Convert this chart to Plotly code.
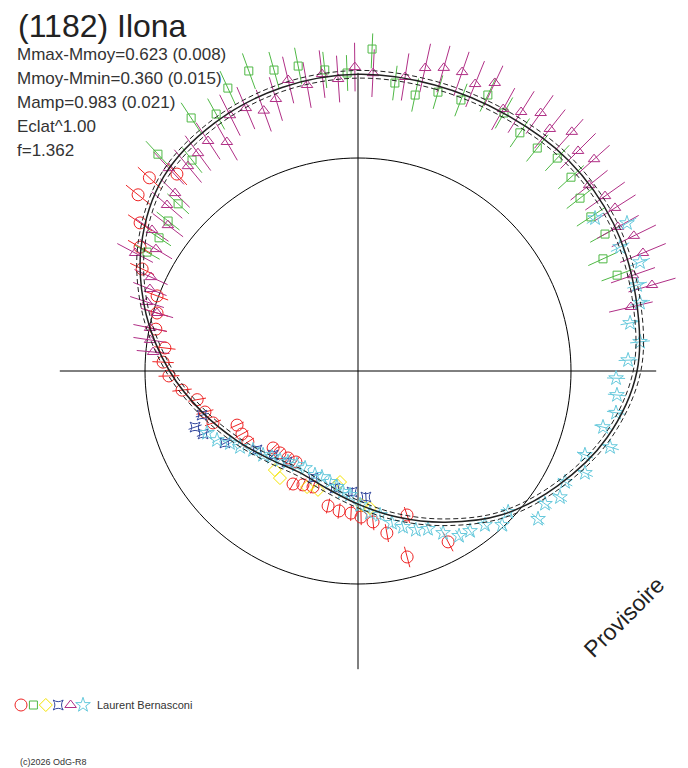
import plotly.graph_objects as go

# angles in degrees (phase, clockwise from top), r = relative brightness (1 = mean circle)
fit_ang = [0, 15, 30, 45, 60, 75, 90, 105, 120, 135, 150, 165, 180, 195, 210, 225,
           240, 255, 270, 285, 300, 315, 330, 345, 360]
fit_r = [1.393, 1.39, 1.39, 1.398, 1.385, 1.35, 1.31, 1.21, 1.08, 0.955, 0.82, 0.71,
         0.625, 0.57, 0.55, 0.585, 0.655, 0.755, 0.885, 1.03, 1.175, 1.29, 1.345, 1.378, 1.393]
fit_sigma = 0.018

red_ang = [312.8, 317.4, 308.7, 304.2, 299.6, 295.3, 290.5, 286.1, 281.7, 276.8, 272.6, 268.5,
           263.8, 259.9, 255.0, 250.3, 245.9, 241.5, 237.2, 227.8, 223.6, 218.8, 214.3, 209.9,
           205.8, 201.2, 192.5, 187.7, 182.8, 178.8, 174.3, 169.9, 161.2, 165.2, 152.2]
red_r = [1.335, 1.256, 1.323, 1.237, 1.177, 1.121, 1.007, 0.982, 0.969, 0.913, 0.916, 0.888,
         0.831, 0.767, 0.744, 0.723, 0.622, 0.62, 0.615, 0.538, 0.531, 0.524, 0.517, 0.612,
         0.594, 0.584, 0.649, 0.663, 0.668, 0.686, 0.712, 0.773, 0.714, 0.903, 0.907]

green_ang = [2.5, 357.9, 353.7, 348.9, 344.4, 340.0, 335.3, 331.1, 326.6, 321.8, 317.3, 312.9,
             308.3, 303.8, 299.4, 7.3, 11.7, 16.0, 20.8, 25.2, 29.5, 34.2, 38.8, 43.1, 47.7,
             52.1, 56.5, 61.0, 65.4, 69.7]
green_r = [1.513, 1.40, 1.422, 1.459, 1.467, 1.499, 1.462, 1.378, 1.423, 1.26, 1.385, 1.153,
           1.136, 1.124, 1.137, 1.363, 1.323, 1.362, 1.361, 1.432, 1.392, 1.352, 1.343, 1.369,
           1.352, 1.321, 1.311, 1.326, 1.265, 1.297]

yellow_ang = [220.0, 216.1, 203.7, 198.6, 190.4, 189.2, 178.3, 175.0]
yellow_r = [0.607, 0.622, 0.595, 0.589, 0.544, 0.528, 0.629, 0.646]

blue_ang = [251.0, 254.2, 247.9, 241.6, 232.0, 225.3, 218.0, 202.8, 191.1, 182.8, 176.4]
blue_r = [0.809, 0.761, 0.785, 0.71, 0.602, 0.561, 0.542, 0.545, 0.56, 0.569, 0.593]

magenta_ang = [359.4, 356.1, 353.1, 349.9, 346.5, 343.2, 340.1, 336.9, 333.4, 330.2, 326.9,
               323.7, 320.3, 317.0, 314.2, 311.0, 304.4, 307.5, 301.1, 297.9, 294.4, 291.5,
               288.1, 286.1, 281.7, 278.5, 275.3, 2.9, 9.1, 12.5, 15.8, 19.2, 22.2, 25.4, 29.0,
               32.2, 35.3, 38.4, 41.8, 45.0, 48.1, 51.2, 54.7, 57.6, 61.0, 63.9, 67.5, 70.8,
               73.7, 76.8]
magenta_r = [1.427, 1.374, 1.404, 1.364, 1.405, 1.334, 1.30, 1.342, 1.343, 1.239, 1.289, 1.269,
             1.25, 1.302, 1.198, 1.188, 1.172, 1.125, 1.108, 1.184, 1.067, 1.05, 1.042, 0.982,
             0.997, 0.987, 0.966, 1.40, 1.398, 1.457, 1.479, 1.486, 1.455, 1.497, 1.406, 1.437,
             1.484, 1.45, 1.506, 1.461, 1.489, 1.392, 1.421, 1.429, 1.395, 1.442, 1.448, 1.367,
             1.438, 1.316]

cyan_ang = [57.2, 61.2, 64.7, 68.9, 72.9, 76.4, 80.0, 84.1, 87.7, 91.6, 95.3, 99.2, 102.9, 106.8,
            110.3, 114.2, 118.2, 122.0, 125.4, 129.4, 133.2, 136.9, 140.5, 145.0, 148.5, 152.3,
            156.1, 160.0, 163.9, 167.4, 171.3, 175.2, 179.1, 183.7, 187.1, 190.3, 194.2, 198.8,
            202.5, 208.6, 213.0, 217.6, 221.2, 225.0, 228.5, 233.0, 237.2, 240.6, 243.9, 247.7]
cyan_r = [1.324, 1.441, 1.361, 1.419, 1.371, 1.362, 1.297, 1.331, 1.269, 1.212, 1.221, 1.227,
          1.18, 1.236, 1.136, 1.168, 1.103, 1.118, 1.077, 1.094, 0.967, 0.99, 0.937, 0.917, 0.908,
          0.859, 0.811, 0.794, 0.762, 0.731, 0.684, 0.669, 0.629, 0.583, 0.572, 0.553, 0.537,
          0.526, 0.528, 0.519, 0.526, 0.539, 0.556, 0.571, 0.595, 0.617, 0.659, 0.69, 0.737, 0.766]

# relative error of each observer's points
rel_err = {'red': 0.055, 'green': 0.06, 'yellow': 0.0, 'blue': 0.04, 'magenta': 0.08, 'cyan': 0.035}

series = [
    ('red', red_ang, red_r, '#ee2424', 'circle-open', 12),
    ('green', green_ang, green_r, '#4fb845', 'square-open', 8),
    ('yellow', yellow_ang, yellow_r, '#f5e400', 'diamond-open', 10),
    ('blue', blue_ang, blue_r, '#34489e', 'star-square-open', 9),
    ('magenta', magenta_ang, magenta_r, '#b02f86', 'triangle-up-open', 10),
    ('cyan', cyan_ang, cyan_r, '#66c9dc', 'star-open', 11),
]

mean_level = 1.0
axis_len = 1.4
observer = 'Laurent Bernasconi'

fig = go.Figure()

# cross axes and mean circle
fig.add_trace(go.Scatterpolar(r=[axis_len, 0, axis_len], theta=[270, 0, 90], mode='lines',
                              line=dict(color='black', width=1), hoverinfo='skip'))
fig.add_trace(go.Scatterpolar(r=[axis_len, 0, axis_len], theta=[0, 0, 180], mode='lines',
                              line=dict(color='black', width=1), hoverinfo='skip'))
circle_ang = list(range(0, 361, 2))
fig.add_trace(go.Scatterpolar(r=[mean_level] * len(circle_ang), theta=circle_ang, mode='lines',
                              line=dict(color='black', width=1), hoverinfo='skip'))

# error bars (radial segments)
for name, ang, rr, color, sym, size in series:
    e = rel_err[name]
    if e == 0:
        continue
    er, et = [], []
    for a, v in zip(ang, rr):
        er += [v * (1 - e), v * (1 + e), None]
        et += [a, a, None]
    fig.add_trace(go.Scatterpolar(r=er, theta=et, mode='lines', line=dict(color=color, width=1),
                                  hoverinfo='skip'))

for name, ang, rr, color, sym, size in series:
    fig.add_trace(go.Scatterpolar(r=rr, theta=ang, mode='markers', cliponaxis=False,
                                  marker=dict(symbol=sym, size=size, color=color,
                                              line=dict(color=color, width=1))))

# fitted curve with envelope
fig.add_trace(go.Scatterpolar(r=[v + fit_sigma for v in fit_r], theta=fit_ang, mode='lines',
                              line=dict(color='#222', width=1, dash='5px,3px', shape='spline')))
fig.add_trace(go.Scatterpolar(r=fit_r, theta=fit_ang, mode='lines',
                              line=dict(color='#222', width=1.5, shape='spline')))
fig.add_trace(go.Scatterpolar(r=[v - fit_sigma for v in fit_r], theta=fit_ang, mode='lines',
                              line=dict(color='#222', width=1, dash='5px,3px', shape='spline')))

# observer legend row
for i, (name, ang, rr, color, sym, size) in enumerate(series):
    fig.add_trace(go.Scatter(x=[i], y=[0], mode='markers', cliponaxis=False,
                             marker=dict(symbol=sym, size=size, color=color,
                                         line=dict(color=color, width=1)),
                             xaxis='x', yaxis='y', hoverinfo='skip'))

stats = ['Mmax-Mmoy=0.623 (0.008)', 'Mmoy-Mmin=0.360 (0.015)', 'Mamp=0.983 (0.021)',
         'Eclat^1.00', 'f=1.362']

W, H = 688, 768
OFF = 8  # page body margin


def px(x):
    return (x - OFF) / W


def py(y):
    return 1 - (y - OFF) / H


ann = [dict(text='(1182) Ilona', x=px(17), y=py(26), xanchor='left', yanchor='middle',
            borderpad=0, font=dict(size=32, color='#222'))]
for i, s in enumerate(stats):
    ann.append(dict(text=s, x=px(16), y=py(54 + 24 * i), xanchor='left', yanchor='middle',
                    borderpad=0, font=dict(size=17, color='#333')))
ann.append(dict(text='Provisoire', x=px(624), y=py(617), textangle=-45, xanchor='center',
                yanchor='middle', font=dict(size=23, color='#222')))
ann.append(dict(text=observer, x=px(95), y=py(705), xanchor='left', yanchor='middle',
                font=dict(size=11, color='#333')))
ann.append(dict(text='(c)2026 OdG-R8', x=px(18), y=py(762), xanchor='left', yanchor='middle',
                font=dict(size=9, color='#333')))
for a in ann:
    a.update(xref='paper', yref='paper', showarrow=False)

# polar centre at page (358, 371), mean circle radius 213 px
cx, cy, rad = 358 - OFF, 371 - OFF, 338
leg_y = py(705)

fig.update_layout(
    width=W, height=H,
    margin=dict(l=0, r=0, t=0, b=0),
    paper_bgcolor='white', plot_bgcolor='white',
    showlegend=False,
    font=dict(family='Liberation Sans, Arial, sans-serif'),
    polar=dict(
        domain=dict(x=[(cx - rad) / W, (cx + rad) / W], y=[1 - (cy + rad) / H, 1 - (cy - rad) / H]),
        bgcolor='rgba(0,0,0,0)',
        radialaxis=dict(range=[0, rad / 213], visible=False, showgrid=False),
        angularaxis=dict(rotation=90, direction='clockwise', showgrid=False, showline=False,
                         showticklabels=False, ticks=''),
    ),
    xaxis=dict(domain=[0, 0.2], range=[-1.694 + 8 / 12.4, 9.403 + 8 / 12.4], visible=False,
               fixedrange=True),
    yaxis=dict(domain=[leg_y - 0.022, leg_y + 0.022], range=[-1, 1], visible=False,
               fixedrange=True),
    annotations=ann,
)

fig.write_html("out.html")
